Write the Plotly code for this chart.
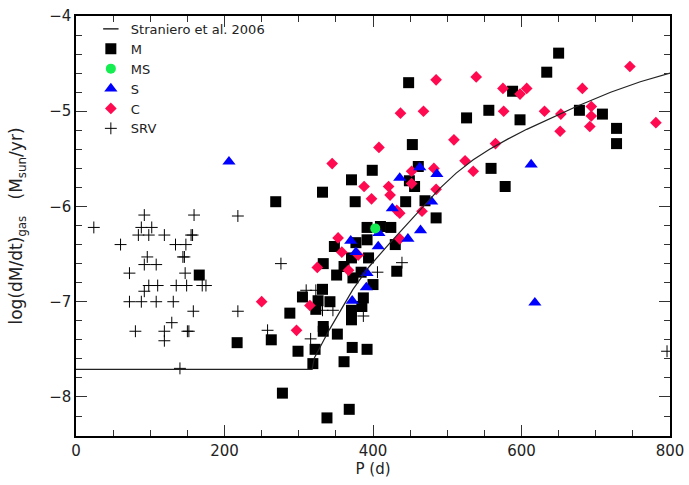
import plotly.graph_objects as go

# ---- data ----
curve_P = [0, 318, 321, 341.5, 373, 395, 422, 445, 467, 490, 512, 535, 557, 582, 607, 640, 674, 720, 760, 800]
curve_y = [-7.71, -7.71, -7.59, -7.29, -6.87, -6.63, -6.39, -6.19, -6.00, -5.81, -5.65, -5.51, -5.40, -5.29,
           -5.19, -5.07, -4.95, -4.80, -4.69, -4.60]

M_P = [448, 650, 634, 588, 556, 526, 598, 678, 709, 728, 728, 453, 559, 578, 399, 461, 371, 449, 456, 332,
       269, 376, 444, 470, 485, 410, 392, 424, 392, 430, 348, 377, 333, 394, 371, 361, 432, 351, 373, 384,
       400, 166, 305, 332, 326, 342, 323, 387, 385, 371, 371, 288, 333, 333, 352, 263, 217, 299, 322, 372,
       392, 361, 319, 278, 368, 338]
M_y = [-4.70, -4.39, -4.59, -4.79, -4.99, -5.07, -5.09, -4.99, -5.03, -5.18, -5.34, -5.35, -5.60, -5.79, -5.62,
       -5.58, -5.72, -5.73, -5.79, -5.85, -5.95, -5.95, -5.95, -5.94, -6.12, -6.21, -6.22, -6.22, -6.35, -6.40,
       -6.42, -6.38, -6.60, -6.54, -6.54, -6.63, -6.68, -6.72, -6.75, -6.69, -6.82, -6.72, -6.95, -6.87, -6.99,
       -7.00, -7.08, -6.96, -7.05, -7.09, -7.19, -7.12, -7.26, -7.31, -7.34, -7.40, -7.43, -7.52, -7.50, -7.48,
       -7.50, -7.63, -7.65, -7.96, -8.13, -8.22]

MS_P = [403]
MS_y = [-6.23]

S_P = [206, 613, 618, 436, 463, 486, 479, 426, 408, 407, 447, 464, 370, 377, 392, 391, 372]
S_y = [-5.53, -5.56, -7.01, -5.70, -5.59, -5.66, -5.95, -6.02, -6.28, -6.42, -6.34, -6.25, -6.36, -6.48,
       -6.70, -6.85, -6.99]

C_P = [746, 539, 485, 575, 607, 598, 682, 437, 468, 576, 631, 653, 694, 694, 692, 652, 781, 509, 565, 408,
       345, 524, 535, 452, 482, 388, 421, 423, 398, 452, 485, 432, 436, 466, 436, 353, 358, 380, 325, 367,
       315, 250, 297]
C_y = [-4.53, -4.64, -4.67, -4.76, -4.76, -4.82, -4.76, -5.02, -5.00, -5.00, -5.00, -5.03, -4.95, -5.05,
       -5.16, -5.21, -5.12, -5.30, -5.34, -5.38, -5.55, -5.52, -5.63, -5.63, -5.60, -5.79, -5.79, -5.88,
       -5.92, -5.76, -5.82, -6.04, -6.07, -6.05, -6.34, -6.33, -6.48, -6.51, -6.64, -6.67, -7.04, -7.00, -7.30]

SRV_P = [24, 60, 92, 159, 218, 88, 102, 84, 98, 119, 155, 157, 134, 148, 96, 144, 146, 92, 108, 72, 147,
         98, 110, 135, 149, 170, 175, 92, 72, 88, 108, 131, 158, 218, 129, 80, 119, 119, 150, 152, 140, 796,
         276, 258, 316, 310, 323, 332, 346, 387, 406, 439]
SRV_y = [-6.22, -6.40, -6.09, -6.09, -6.10, -6.22, -6.22, -6.30, -6.30, -6.30, -6.30, -6.30, -6.40, -6.40,
         -6.53, -6.53, -6.53, -6.61, -6.61, -6.70, -6.70, -6.83, -6.83, -6.83, -6.83, -6.83, -6.83, -6.89,
         -7.00, -7.00, -7.00, -7.00, -7.10, -7.10, -7.22, -7.31, -7.31, -7.41, -7.31, -7.31, -7.70, -7.52,
         -6.60, -7.30, -7.39, -6.88, -6.88, -7.09, -7.09, -7.15, -6.69, -6.59]

FONT = "DejaVu Sans"
TXT = "#222222"
RED = "#ff0a50"
BLUE = "#0000ff"
GREEN = "#14ee50"

fig = go.Figure()

# legend-only entry for the model curve (short dash symbol)
fig.add_trace(go.Scatter(x=[None], y=[None], mode="markers", name="Straniero et al. 2006",
                         marker=dict(symbol="line-ew-open", size=11, color="black",
                                     line=dict(color="black", width=1.3)),
                         legendrank=1))
fig.add_trace(go.Scatter(x=M_P, y=M_y, mode="markers", name="M", legendrank=2,
                         marker=dict(symbol="square", size=11, color="black")))
fig.add_trace(go.Scatter(x=C_P, y=C_y, mode="markers", name="C", legendrank=5,
                         marker=dict(symbol="diamond", size=9, color=RED)))
fig.add_trace(go.Scatter(x=S_P, y=S_y, mode="markers", name="S", legendrank=4,
                         marker=dict(symbol="triangle-up", size=11.5, color=BLUE)))
fig.add_trace(go.Scatter(x=MS_P, y=MS_y, mode="markers", name="MS", legendrank=3,
                         marker=dict(symbol="circle", size=10, color=GREEN)))
fig.add_trace(go.Scatter(x=SRV_P, y=SRV_y, mode="markers", name="SRV", legendrank=6,
                         marker=dict(symbol="cross-thin-open", size=8.5, color="black",
                                     line=dict(color="black", width=1))))
fig.add_trace(go.Scatter(x=curve_P, y=curve_y, mode="lines", showlegend=False,
                         line=dict(color="#222222", width=1.2)))

axis_common = dict(showline=True, linecolor="black", linewidth=1.5, mirror="allticks",
                   ticks="inside", ticklen=11, tickwidth=1, tickcolor="#333333",
                   showgrid=False, zeroline=False, automargin=False,
                   tickfont=dict(family=FONT, size=15, color=TXT))

fig.update_xaxes(range=[0, 800], dtick=200, tick0=0,
                 minor=dict(ticks="inside", ticklen=6, dtick=50, tickcolor="#333333", showgrid=False),
                 title=dict(text="P (d)", font=dict(family=FONT, size=15, color=TXT), standoff=1),
                 **axis_common)
fig.update_yaxes(range=[-8.41, -4.0], dtick=1, tick0=-8,
                 minor=dict(ticks="inside", ticklen=6, dtick=0.2, tickcolor="#333333", showgrid=False),
                 title=dict(text="log(dM/dt)<sub>gas</sub>&nbsp;&nbsp;&nbsp;(M<sub>sun</sub>/yr)",
                            font=dict(family=FONT, size=17, color=TXT), standoff=22),
                 **axis_common)

fig.update_layout(
    width=689, height=485,
    margin=dict(l=76, r=19, t=16, b=49),
    paper_bgcolor="white", plot_bgcolor="white",
    legend=dict(x=0.025, y=1.005, xanchor="left", yanchor="top", bgcolor="rgba(0,0,0,0)",
                font=dict(family=FONT, size=13, color=TXT), tracegroupgap=0,
                itemwidth=30, traceorder="normal"),
    showlegend=True,
)

fig.write_html("out.html")
